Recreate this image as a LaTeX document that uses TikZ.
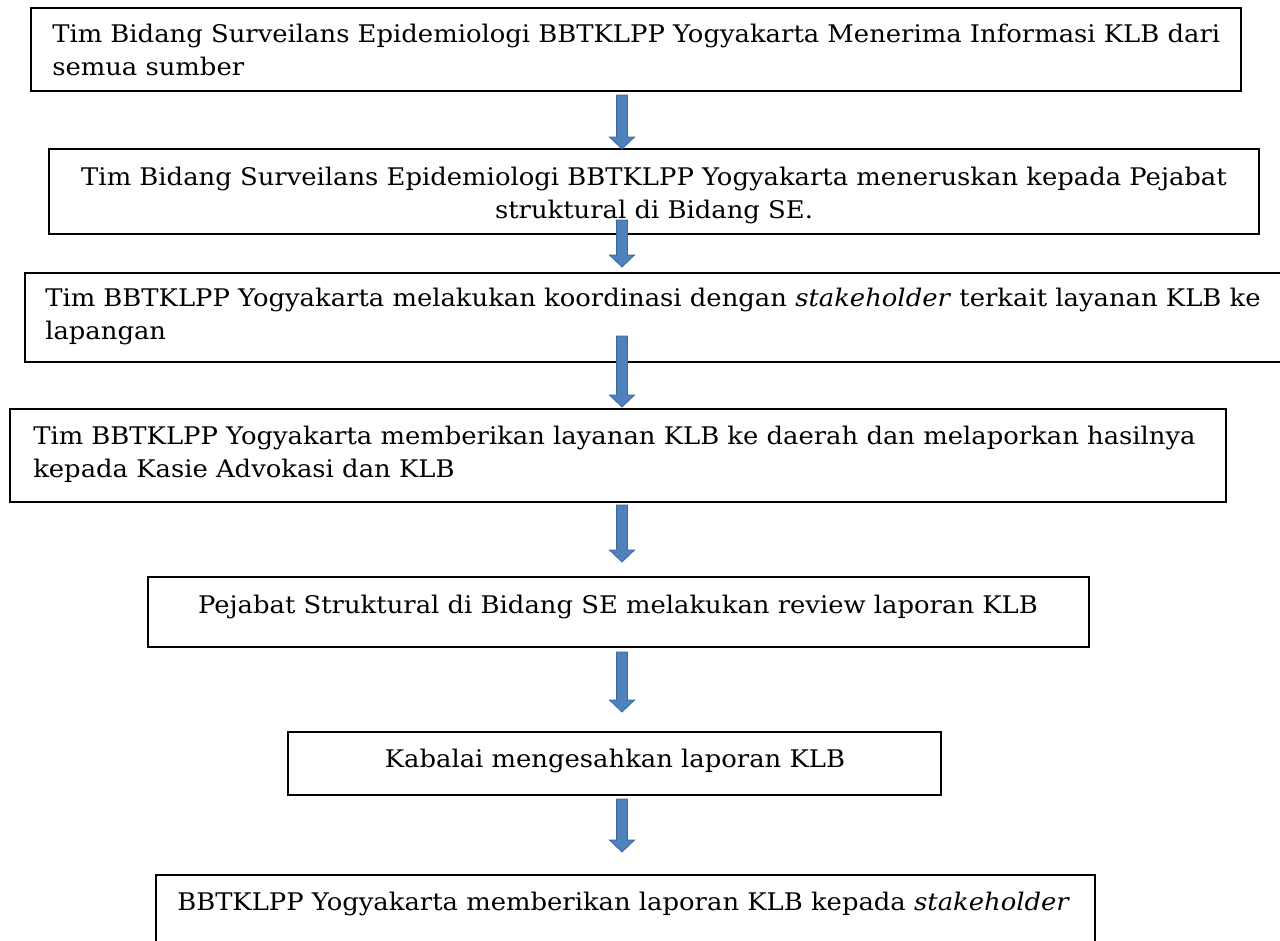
\documentclass[tikz,border=0pt]{standalone}
\usepackage{fontspec}
\setmainfont{DejaVu Serif}[FakeStretch=1.065]
\usetikzlibrary{fit,calc}
\definecolor{arrowfill}{HTML}{4F81BD}
\definecolor{arrowline}{HTML}{3A6699}
\tikzset{
  flowbox/.style={draw=black, line width=1.1pt, fill=white, inner sep=0pt, rectangle},
  flowtext/.style={inner sep=0pt, font=\fontsize{18.2pt}{24.5pt}\selectfont},
  blockarrow/.style={fill=arrowfill, draw=arrowline, line width=0.6pt, line join=miter}
}
\newcommand\flowarrow[2]{%
  \filldraw[blockarrow] ($(#1)+(-5.5,0)$) -- ($(#1)+(5.5,0)$) -- ($(#2)+(5.5,-12)$) -- ($(#2)+(12.5,-12)$)
    -- (#2) -- ($(#2)+(-12.5,-12)$) -- ($(#2)+(-5.5,-12)$) -- cycle;}
\begin{document}
\begin{tikzpicture}[x=0.75pt,y=-0.75pt]
\useasboundingbox (0,0) rectangle (1280,940);
\clip (0,0) rectangle (1280,940);
\fill[white] (0,0) rectangle (1280,940);

% boxes
\node[flowbox, fit={(31,8) (1241,91)}] (b1) {};
\node[flowbox, fit={(49,149) (1259,234)}] (b2) {};
\node[flowbox, fit={(25,273) (1300,362)}] (b3) {};
\node[flowbox, fit={(10,409) (1226,502)}] (b4) {};
\node[flowbox, fit={(148,577) (1089,647)}] (b5) {};
\node[flowbox, fit={(288,732) (941,795)}] (b6) {};
\node[flowbox, fit={(156,875) (1095,960)}] (b7) {};

% texts (base anchor = baseline of the last line)
\node[flowtext, anchor=base west, align=left] (t1) at (52,75)
  {Tim Bidang Surveilans Epidemiologi BBTKLPP Yogyakarta Menerima Informasi KLB dari\\semua sumber};
\node[flowtext, anchor=base, align=center] (t2) at (654,218)
  {Tim Bidang Surveilans Epidemiologi BBTKLPP Yogyakarta meneruskan kepada Pejabat\\struktural di Bidang SE.};
\node[flowtext, anchor=base west, align=left] (t3) at (45,339)
  {Tim BBTKLPP Yogyakarta melakukan koordinasi dengan \textit{stakeholder} terkait layanan KLB ke\\lapangan};
\node[flowtext, anchor=base west, align=left] (t4) at (33,477)
  {Tim BBTKLPP Yogyakarta memberikan layanan KLB ke daerah dan melaporkan hasilnya\\kepada Kasie Advokasi dan KLB};
\node[flowtext, anchor=base] (t5) at (618,613)
  {Pejabat Struktural di Bidang SE melakukan review laporan KLB};
\node[flowtext, anchor=base] (t6) at (615,767)
  {Kabalai mengesahkan laporan KLB};
\node[flowtext, anchor=base west] (t7) at (177,910)
  {BBTKLPP Yogyakarta memberikan laporan KLB kepada \textit{stakeholder}};

% arrow end points
\coordinate (a1s) at (622,95);  \coordinate (a1e) at (622,149);
\coordinate (a2s) at (622,220); \coordinate (a2e) at (622,267);
\coordinate (a3s) at (622,336); \coordinate (a3e) at (622,407);
\coordinate (a4s) at (622,505); \coordinate (a4e) at (622,562);
\coordinate (a5s) at (622,652); \coordinate (a5e) at (622,712);
\coordinate (a6s) at (622,799); \coordinate (a6e) at (622,852);
\flowarrow{a1s}{a1e}
\flowarrow{a2s}{a2e}
\flowarrow{a3s}{a3e}
\flowarrow{a4s}{a4e}
\flowarrow{a5s}{a5e}
\flowarrow{a6s}{a6e}
\end{tikzpicture}
\end{document}
